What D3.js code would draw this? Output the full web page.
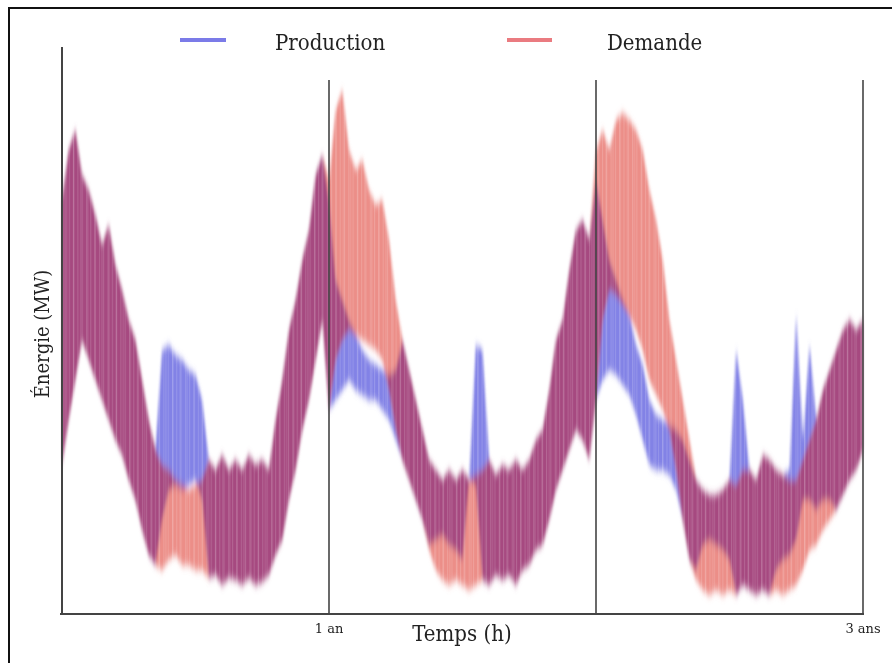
<!DOCTYPE html>
<html><head><meta charset="utf-8">
<script src="https://cdn.jsdelivr.net/npm/d3@7"></script>
<style>
html,body{margin:0;padding:0;background:#fff;}
svg{display:block;}
text{font-family:"DejaVu Serif","Liberation Serif",serif;font-stretch:condensed;fill:#222;}
</style></head>
<body>
<script>
// Time axis: 40 samples per year over 3 years (index i -> i/40 year)
const samplesPerYear = 40;
const yearTicks = [1, 3];
const yearTickLabels = ["1 an", "3 ans"];
const yearSeparators = [1, 2, 3];
const seriesNames = ["Production", "Demande"];

// Demand envelope (MW), upper and lower
const demandHigh = [
  414,464,484,439,424,399,369,389,349,324,294,274,234,194,164,149,144,134,129,124,129,134,154,144,159,144,154,144,159,149,154,144,194,234,284,314,354,384,439,459,
  434,
  504,524,464,444,454,424,409,414,374,314,274,244,214,184,154,144,134,144,134,144,134,139,144,154,139,149,144,154,144,154,174,184,224,274,294,344,384,394,374,464,
  484,464,494,501,494,484,464,424,394,354,294,254,214,174,134,124,119,119,124,134,129,144,144,134,159,154,144,139,134,134,154,174,194,224,244,264,284,294,284,294
];
const demandLow = [
  149,194,234,274,254,234,214,194,174,159,134,114,84,59,49,44,54,59,49,49,44,44,36,39,29,36,34,29,36,29,32,39,59,74,114,144,184,214,254,294,
  204,
  254,274,284,279,274,269,264,254,224,184,154,134,114,94,64,44,34,29,34,29,24,29,34,29,39,34,39,29,44,49,64,69,94,124,144,164,184,174,154,214,
  294,324,319,309,299,284,264,234,219,204,184,144,94,54,34,24,19,24,19,24,19,29,24,19,24,19,24,19,24,29,44,64,69,84,94,104,119,134,144,164
];
// Production envelope (MW), upper and lower
const productionHigh = [
  414,464,484,439,424,399,369,389,349,324,294,274,234,194,164,264,269,259,254,244,239,214,154,144,159,144,154,144,159,149,154,144,194,234,284,314,354,384,439,459,
  414,
  334,314,294,279,264,254,249,244,239,244,274,244,214,184,154,144,134,144,134,144,134,269,264,154,139,149,144,154,144,154,174,184,224,274,294,344,384,394,374,434,
  394,354,334,314,299,269,249,214,199,194,189,184,174,154,134,124,119,119,124,134,264,214,144,134,159,154,144,139,144,299,174,269,194,224,244,264,284,294,284,294
];
const productionLow = [
  149,194,234,274,254,234,214,194,174,159,134,114,84,59,49,94,124,129,124,129,134,114,36,39,29,36,34,29,36,29,32,39,59,74,114,144,184,214,254,294,
  204,
  214,224,234,224,219,214,214,204,194,174,154,134,114,94,69,74,79,69,64,54,134,129,34,29,39,34,39,29,44,49,64,69,94,124,144,164,184,174,154,214,
  234,244,239,229,219,199,174,149,144,144,139,124,94,54,44,69,74,69,64,54,19,29,24,19,24,19,44,54,59,74,114,114,104,114,114,104,119,134,144,164
];

const W = 892, H = 663;
const svg = d3.select("body").append("svg").attr("width", W).attr("height", H);

// outer frame
svg.append("rect").attr("x", 9).attr("y", 8).attr("width", 1000).attr("height", 1000)
  .attr("fill", "none").attr("stroke", "#111").attr("stroke-width", 2);

const x = d3.scaleLinear().domain([0, 3]).range([62, 863]);
const y = d3.scaleLinear().domain([0, 567]).range([614, 47]);

const t = i => i / samplesPerYear;
const idx = d3.range(demandHigh.length);

const areaOf = (hi, lo) => d3.area()
  .x(i => x(t(i))).y0(i => y(lo[i])).y1(i => y(hi[i]))
  .curve(d3.curveLinear)(idx);

const blue = "#8282e6", red = "#ec8e88", purple = "#a64a80";

const defs = svg.append("defs");
defs.append("clipPath").attr("id", "prodClip").append("path").attr("d", areaOf(productionHigh, productionLow));
const blur = defs.append("filter").attr("id", "soft").attr("x", "-5%").attr("y", "-10%").attr("width", "110%").attr("height", "120%");
blur.append("feGaussianBlur").attr("stdDeviation", "0.8 4");

// streak texture (styling only): faint vertical light lines
const pat1 = defs.append("pattern").attr("id", "streakA").attr("patternUnits", "userSpaceOnUse")
  .attr("width", 4.3).attr("height", 40);
pat1.append("rect").attr("width", 4.3).attr("height", 40).attr("fill", "#fff");
pat1.append("rect").attr("x", 0).attr("width", 1).attr("height", 40).attr("fill", "#d6d6d6");
const pat2 = defs.append("pattern").attr("id", "streakB").attr("patternUnits", "userSpaceOnUse")
  .attr("width", 7.1).attr("height", 40);
pat2.append("rect").attr("width", 7.1).attr("height", 40).attr("fill", "#fff");
pat2.append("rect").attr("x", 2).attr("width", 1.2).attr("height", 40).attr("fill", "#dedede");
const mask = defs.append("mask").attr("id", "streaks").attr("maskUnits", "userSpaceOnUse")
  .attr("x", 0).attr("y", 0).attr("width", W).attr("height", H);
mask.append("rect").attr("width", W).attr("height", H).attr("fill", "url(#streakA)");
mask.append("rect").attr("width", W).attr("height", H).attr("fill", "url(#streakB)")
  .style("mix-blend-mode", "multiply");

const plot = svg.append("g").attr("mask", "url(#streaks)").append("g").attr("filter", "url(#soft)");
plot.append("path").attr("d", areaOf(productionHigh, productionLow)).attr("fill", blue);
plot.append("path").attr("d", areaOf(demandHigh, demandLow)).attr("fill", red);
plot.append("path").attr("d", areaOf(demandHigh, demandLow)).attr("fill", purple).attr("clip-path", "url(#prodClip)");

// axes
const axisColor = "#444";
svg.append("line").attr("x1", x(0)).attr("x2", x(0)).attr("y1", y.range()[1]).attr("y2", y(0))
  .attr("stroke", axisColor).attr("stroke-width", 2);
svg.append("line").attr("x1", x(0) - 2).attr("x2", x(3) + 1).attr("y1", y(0)).attr("y2", y(0))
  .attr("stroke", axisColor).attr("stroke-width", 2);
svg.selectAll("line.sep").data(yearSeparators).enter().append("line").attr("class", "sep")
  .attr("x1", d => x(d)).attr("x2", d => x(d)).attr("y1", 80).attr("y2", y(0))
  .attr("stroke", axisColor).attr("stroke-width", 1.6);

svg.selectAll("text.tick").data(yearTicks).enter().append("text").attr("class", "tick")
  .attr("x", d => x(d)).attr("y", 633)
  .attr("text-anchor", "middle").attr("font-size", 13).style("font-stretch", "normal")
  .text((d, i) => yearTickLabels[i]);

svg.append("text").attr("x", 462).attr("y", 641).attr("text-anchor", "middle")
  .attr("font-size", 22).text("Temps (h)");
svg.append("text").attr("transform", "translate(49,334) rotate(-90)").attr("text-anchor", "middle")
  .attr("font-size", 20).text("Énergie (MW)");

// legend
const legend = [
  {name: seriesNames[0], color: "#7b7be8", x1: 180, x2: 226, tx: 275},
  {name: seriesNames[1], color: "#ea7b80", x1: 507, x2: 552, tx: 607}
];
const lg = svg.selectAll("g.leg").data(legend).enter().append("g").attr("class", "leg");
lg.append("line").attr("x1", d => d.x1).attr("x2", d => d.x2).attr("y1", 40).attr("y2", 40)
  .attr("stroke", d => d.color).attr("stroke-width", 4);
lg.append("text").attr("x", d => d.tx).attr("y", 50).attr("font-size", 22).text(d => d.name);
</script>
</body></html>
